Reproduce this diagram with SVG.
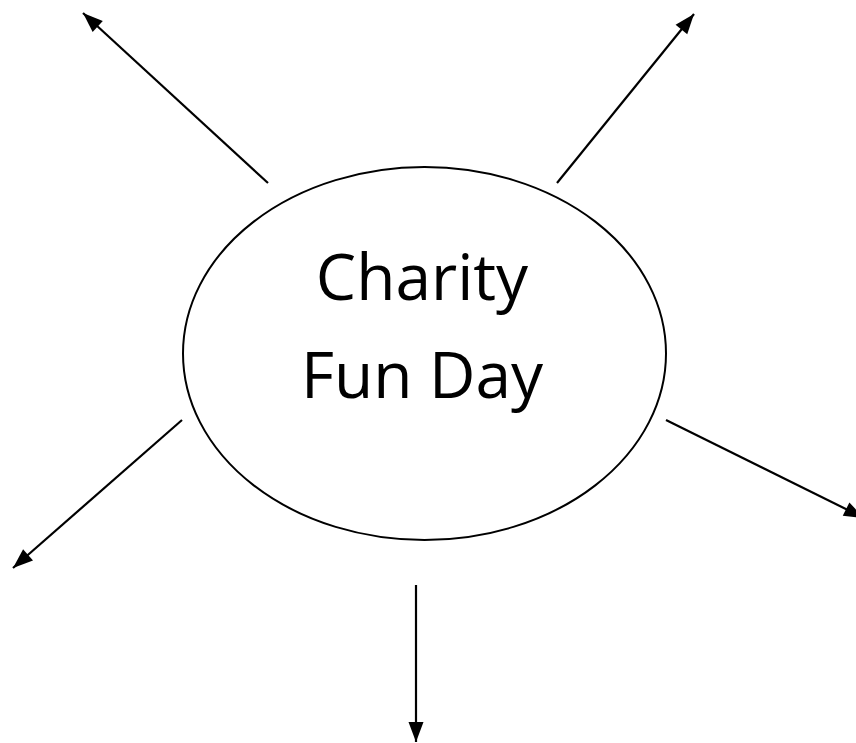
<svg xmlns="http://www.w3.org/2000/svg" width="856" height="743" viewBox="0 0 856 743">
<style>
.conn{stroke:#000;stroke-width:2.2;fill:none;marker-end:url(#ah)}
.lbl{font-family:"Open Sans","Liberation Sans",sans-serif;font-size:64px;fill:#000;text-anchor:middle}
</style>
<defs>
<marker id="ah" markerUnits="userSpaceOnUse" markerWidth="22" markerHeight="16" refX="20" refY="7.5" orient="auto" overflow="visible">
<path d="M0,0 L20,7.5 L0,15 z" fill="#000"/>
</marker>
</defs>
<rect width="856" height="743" fill="#fff"/>
<g id="connectors">
<line class="conn" x1="268" y1="183" x2="83" y2="13"/>
<line class="conn" x1="557" y1="183" x2="694" y2="14"/>
<line class="conn" x1="182" y1="420" x2="13" y2="568"/>
<line class="conn" x1="666" y1="420" x2="864" y2="518"/>
<line class="conn" x1="416" y1="585" x2="416" y2="742"/>
</g>
<g id="node-charity">
<ellipse cx="424.5" cy="353.5" rx="241.5" ry="186.5" fill="#fff" stroke="#000" stroke-width="2"/>
<text class="lbl" x="422" y="300">Charity</text>
<text class="lbl" x="422" y="398">Fun Day</text>
</g>
</svg>
